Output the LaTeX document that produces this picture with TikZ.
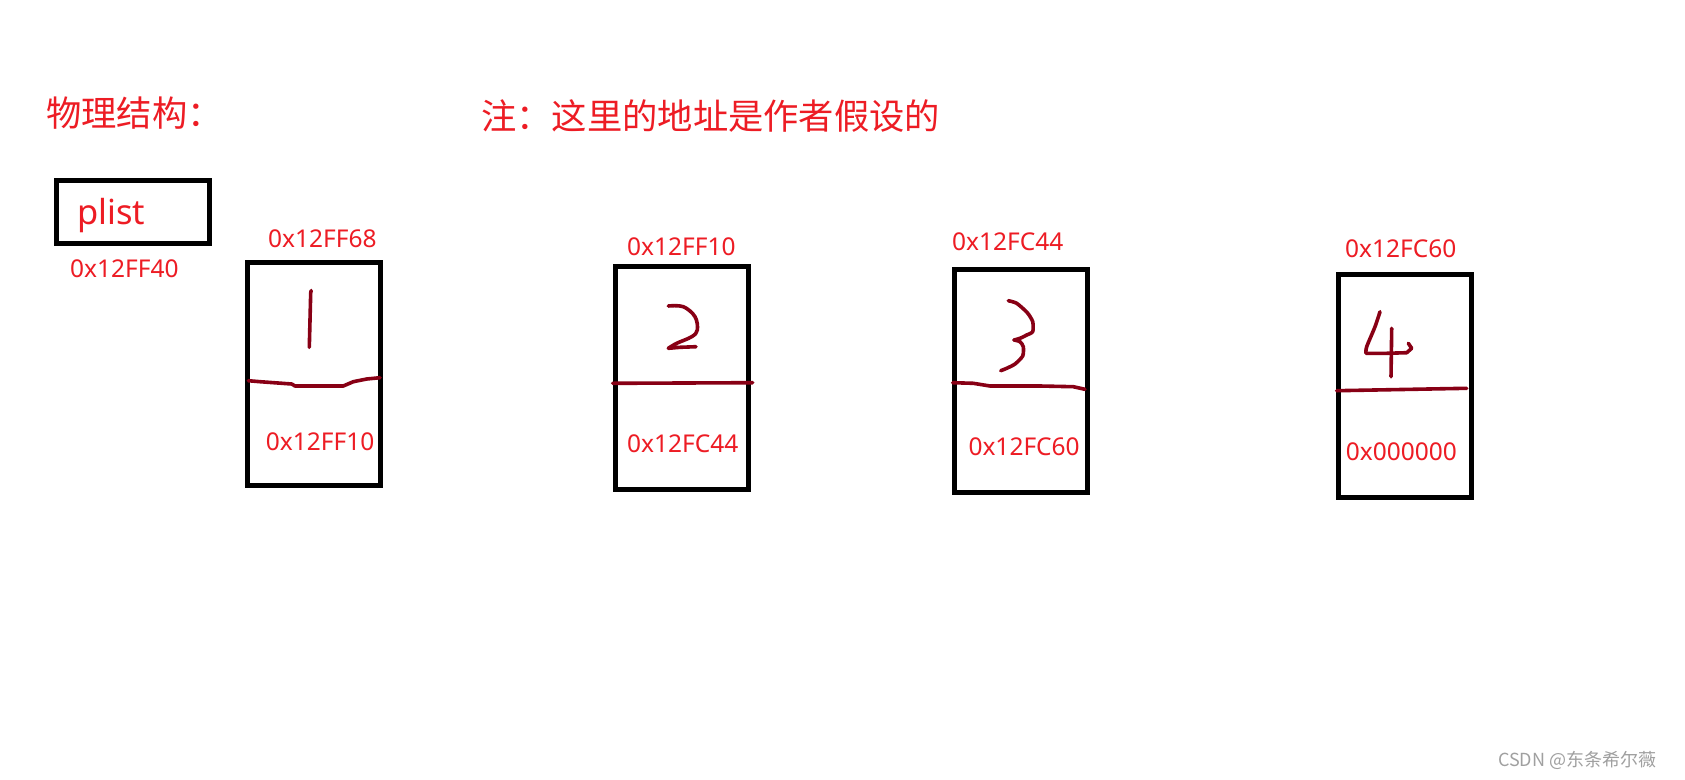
\documentclass[tikz,border=0pt]{standalone}
\usepackage{fontspec}
\setmainfont{Noto Sans}
\newfontfamily\cjk{Noto Sans CJK SC}
\definecolor{pred}{RGB}{237,28,36}
\definecolor{dred}{RGB}{136,0,21}
\definecolor{wm}{RGB}{160,160,160}
\begin{document}
\begin{tikzpicture}[x=1pt,y=-1pt,
  membox/.style={draw=black,line width=5pt,minimum width=133pt,minimum height=223pt,inner sep=0pt},
  addr/.style={anchor=base west,inner sep=0pt,text=pred,font=\fontsize{24.5}{28}\selectfont},
  title/.style={anchor=base west,inner sep=0pt,text=pred,font=\cjk\fontsize{35.3}{40}\selectfont},
  hand/.style={draw=dred,line width=3.6pt,line cap=round,line join=round}]
\useasboundingbox[fill=white] (0,0) rectangle (1685,779);

% titles
\node[title] (t1) at (46,126.5) {物理结构：};
\node[title] (t2) at (481,129.5) {注：这里的地址是作者假设的};

% plist
\node[draw=black,line width=5pt,minimum width=153pt,minimum height=63pt,inner sep=0pt] (pl) at (133,212) {};
\node[anchor=base west,inner sep=0pt,text=pred,font=\fontsize{34.5}{40}\selectfont] (pltxt) at (77,224) {plist};
\node[addr] (a0) at (70,277) {0x12FF40};

% memory boxes
\node[membox] (b1) at (313.9,374.2) {};
\node[membox] (b2) at (682,378.2) {};
\node[membox] (b3) at (1020.8,381) {};
\node[membox] (b4) at (1405,385.5) {};

% addresses above
\node[addr] (h1) at (268,247) {0x12FF68};
\node[addr] (h2) at (627,255) {0x12FF10};
\node[addr] (h3) at (952,250.7) {0x12FC44};
\node[addr] (h4) at (1345,257.3) {0x12FC60};

% next pointers inside
\node[addr] (n1) at (265.7,450.7) {0x12FF10};
\node[addr] (n2) at (627,452.7) {0x12FC44};
\node[addr] (n3) at (968.3,455) {0x12FC60};
\node[addr] (n4) at (1345.7,460) {0x000000};

% hand-drawn dividers
\draw[hand] (248.3,380.7) -- (260,381.7) -- (291.7,384) -- (295,386) -- (343.3,386) -- (353.3,381.7) -- (366.7,379) -- (380,377.7);
\draw[hand] (612.7,383.3) -- (752.7,382.7);
\draw[hand] (952.7,382.7) -- (973.3,383.3) -- (990,386) -- (1040,386) -- (1073.3,386.7) -- (1085,389.3);
\draw[hand] (1336.7,390.7) -- (1466.7,388.3);

% hand-drawn digits
\draw[hand] (311.2,290.5) -- (310.7,293) -- (309.3,347.3);
\draw[hand] plot[smooth,tension=0.6] coordinates {(668.3,306) (683.3,306.7) (695,316.7) (697.3,330) (691.7,336.7) (676.7,343.3) (668.3,348.3)} -- (680,347.3) -- (696,346.7);
\draw[hand] plot[smooth,tension=0.4] coordinates {(1008.3,300.7) (1016.7,303.3) (1027.3,312.7) (1032.7,321.7) (1032.7,331.7) (1026.7,335) (1020,338.3) (1014,340)};
\draw[hand] plot[smooth,tension=0.4] coordinates {(1014,340) (1020,341.7) (1023.3,346.7) (1022.7,356) (1015,364) (1006.7,368.3) (1000.7,370.7)};
\draw[hand] plot[smooth,tension=0.5] coordinates {(1380,311.7) (1375,326.7) (1366.7,346.7) (1366,353.3)} -- (1386.7,353.3) -- (1406.7,352.7) -- (1411.7,348.3) -- (1408.3,343.3);
\draw[hand] (1391.7,328.3) -- (1391,376.7);

% watermark
\node[anchor=base west,inner sep=0pt,text=wm,font=\cjk\fontsize{18}{22}\selectfont] (wmk) at (1498,766.7) {CSDN @东条希尔薇};
\end{tikzpicture}
\end{document}
